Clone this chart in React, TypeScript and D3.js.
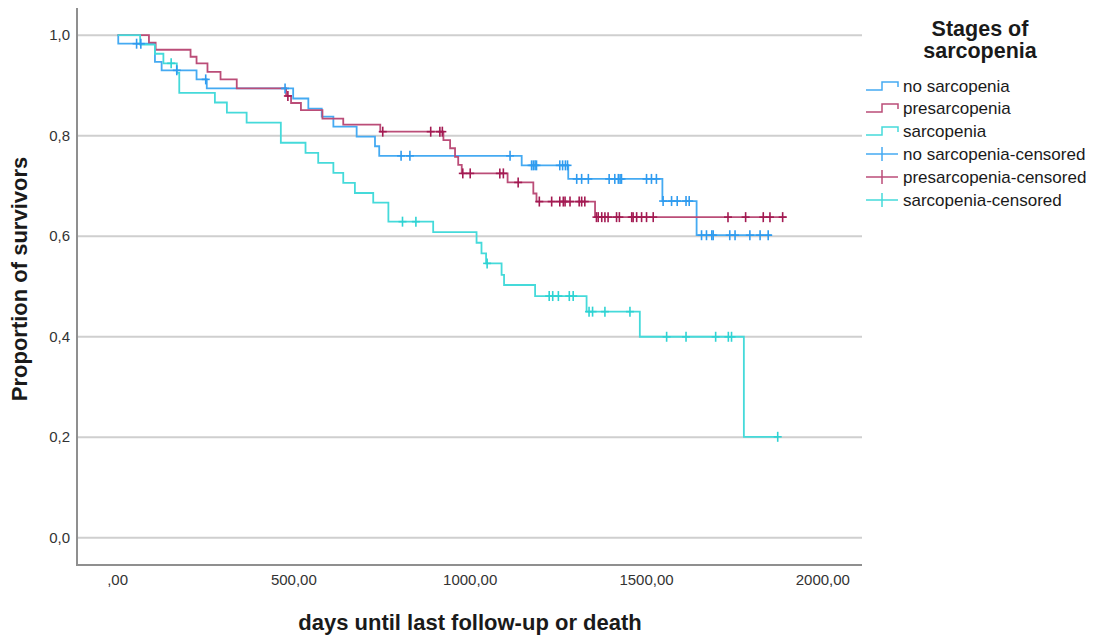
import React, { useEffect, useRef } from "react";
import * as d3 from "d3";

// Kaplan-Meier steps (days, proportion surviving)
const noSarcTimes = [0, 2, 106, 125, 224, 253, 498, 541, 579, 612, 678, 730, 742, 1146, 1278, 1545, 1642];
const noSarcSurv = [1.0, 0.983, 0.947, 0.93, 0.912, 0.894, 0.874, 0.854, 0.838, 0.818, 0.798, 0.779, 0.76, 0.741, 0.714, 0.67, 0.602];
const noSarcCensored = [54, 66, 168, 250, 475, 804, 829, 1113, 1174, 1179, 1184, 1188, 1254, 1262, 1270, 1276, 1302, 1316, 1335, 1394, 1410, 1420, 1425, 1429, 1500, 1514, 1528, 1547, 1571, 1587, 1612, 1621, 1656, 1670, 1685, 1689, 1736, 1751, 1793, 1822, 1845];
const noSarcEnd = 1855;

const preSarcTimes = [0, 89, 108, 207, 224, 255, 292, 338, 478, 492, 520, 581, 640, 745, 924, 943, 957, 966, 976, 1106, 1179, 1188, 1354];
const preSarcSurv = [1.0, 0.985, 0.971, 0.957, 0.944, 0.927, 0.912, 0.894, 0.879, 0.865, 0.851, 0.834, 0.822, 0.808, 0.791, 0.775, 0.758, 0.742, 0.725, 0.707, 0.685, 0.669, 0.638];
const preSarcCensored = [483, 752, 888, 914, 921, 979, 1000, 1084, 1094, 1136, 1196, 1231, 1254, 1264, 1269, 1283, 1309, 1316, 1325, 1358, 1363, 1373, 1382, 1391, 1415, 1423, 1458, 1462, 1472, 1486, 1500, 1519, 1731, 1781, 1831, 1850, 1886];
const preSarcEnd = 1897;

const sarcTimes = [0, 64, 106, 130, 168, 175, 276, 310, 366, 463, 533, 569, 612, 640, 673, 725, 768, 895, 1018, 1032, 1045, 1089, 1096, 1184, 1330, 1481, 1776];
const sarcSurv = [1.0, 0.981, 0.963, 0.944, 0.925, 0.885, 0.866, 0.846, 0.826, 0.786, 0.766, 0.746, 0.726, 0.706, 0.686, 0.667, 0.629, 0.608, 0.587, 0.566, 0.546, 0.523, 0.503, 0.481, 0.45, 0.4, 0.201];
const sarcCensored = [152, 808, 846, 1048, 1224, 1234, 1250, 1281, 1292, 1337, 1347, 1382, 1453, 1557, 1612, 1696, 1732, 1741, 1872];
const sarcEnd = 1872;

const xTicks = [0, 500, 1000, 1500, 2000];
const yTicks = [0, 0.2, 0.4, 0.6, 0.8, 1.0];
const legendLabels = [
  "no sarcopenia",
  "presarcopenia",
  "sarcopenia",
  "no sarcopenia-censored",
  "presarcopenia-censored",
  "sarcopenia-censored",
];

const FONT = "'Liberation Sans', Arial, sans-serif";

const fmtX = (v: number) => (v === 0 ? ",00" : `${v},00`);
const fmtY = (v: number) => v.toFixed(1).replace(".", ",");

const App = () => {
  const ref = useRef<SVGSVGElement>(null);

  useEffect(() => {
    const svg = d3.select(ref.current);
    svg.selectAll("*").remove();

    const left = 77;
    const right = 862;
    const top = 8;
    const bottom = 565;

    const x = d3.scaleLinear().domain([-115, 2111]).range([left, right]);
    const y = d3.scaleLinear().domain([-0.054, 1.054]).range([bottom, top]);

    const groups = [
      { times: noSarcTimes, surv: noSarcSurv, cens: noSarcCensored, end: noSarcEnd, line: "#45aaf2", mark: "#2f9bef" },
      { times: preSarcTimes, surv: preSarcSurv, cens: preSarcCensored, end: preSarcEnd, line: "#bb4d78", mark: "#a31a52" },
      { times: sarcTimes, surv: sarcSurv, cens: sarcCensored, end: sarcEnd, line: "#45dada", mark: "#2ed3d3" },
    ];

    // gridlines
    svg
      .append("g")
      .selectAll("line")
      .data(yTicks)
      .enter()
      .append("line")
      .attr("x1", left)
      .attr("x2", right)
      .attr("y1", (d) => y(d))
      .attr("y2", (d) => y(d))
      .attr("stroke", "#cfcfcf")
      .attr("stroke-width", 2);

    // axis frame
    svg
      .append("path")
      .attr("d", `M${left},${top}V${bottom}H${right}`)
      .attr("fill", "none")
      .attr("stroke", "#8f8f8f")
      .attr("stroke-width", 2);

    svg
      .append("g")
      .selectAll("text")
      .data(yTicks)
      .enter()
      .append("text")
      .attr("x", 70)
      .attr("y", (d) => y(d) + 5)
      .attr("text-anchor", "end")
      .attr("font-family", FONT)
      .attr("font-size", 15)
      .attr("fill", "#333")
      .text((d) => fmtY(d));

    svg
      .append("g")
      .selectAll("text")
      .data(xTicks)
      .enter()
      .append("text")
      .attr("x", (d) => x(d))
      .attr("y", 585)
      .attr("text-anchor", "middle")
      .attr("font-family", FONT)
      .attr("font-size", 15)
      .attr("fill", "#333")
      .text((d) => fmtX(d));

    svg
      .append("text")
      .attr("transform", `translate(27,279) rotate(-90)`)
      .attr("text-anchor", "middle")
      .attr("font-family", FONT)
      .attr("font-size", 22)
      .attr("font-weight", "bold")
      .attr("fill", "#1a1a1a")
      .text("Proportion of survivors");

    svg
      .append("text")
      .attr("x", 470)
      .attr("y", 630)
      .attr("text-anchor", "middle")
      .attr("font-family", FONT)
      .attr("font-size", 22)
      .attr("font-weight", "bold")
      .attr("fill", "#1a1a1a")
      .text("days until last follow-up or death");

    const step = d3
      .line<[number, number]>()
      .x((d) => x(d[0]))
      .y((d) => y(d[1]))
      .curve(d3.curveStepAfter);

    const survAt = (g: typeof groups[0], t: number) => {
      const i = d3.bisectRight(g.times, t) - 1;
      return g.surv[Math.max(0, i)];
    };

    groups.forEach((g) => {
      const pts: [number, number][] = g.times.map((t, i) => [t, g.surv[i]]);
      pts.push([g.end, g.surv[g.surv.length - 1]]);
      svg
        .append("path")
        .datum(pts)
        .attr("d", step)
        .attr("fill", "none")
        .attr("stroke", g.line)
        .attr("stroke-width", 1.8);
    });

    groups.forEach((g) => {
      const cg = svg.append("g");
      g.cens.forEach((t) => {
        const cx = x(t);
        const cy = y(survAt(g, t));
        cg.append("line")
          .attr("x1", cx)
          .attr("x2", cx)
          .attr("y1", cy - 5)
          .attr("y2", cy + 5)
          .attr("stroke", g.mark)
          .attr("stroke-width", 1.6);
        cg.append("line")
          .attr("x1", cx - 4)
          .attr("x2", cx + 4)
          .attr("y1", cy)
          .attr("y2", cy)
          .attr("stroke", g.mark)
          .attr("stroke-width", 1.6);
      });
    });

    // legend
    const lg = svg.append("g");
    ["Stages of", "sarcopenia"].forEach((t, i) => {
      lg.append("text")
        .attr("x", 980)
        .attr("y", 36 + i * 22)
        .attr("text-anchor", "middle")
        .attr("font-family", FONT)
        .attr("font-size", 21.5)
        .attr("font-weight", "bold")
        .attr("fill", "#1a1a1a")
        .text(t);
    });

    const rowY = [86, 108, 131, 154, 177, 200];
    legendLabels.forEach((label, i) => {
      const g = groups[i % 3];
      const ry = rowY[i];
      if (i < 3) {
        lg.append("path")
          .attr("d", `M866,${ry + 4}H882V${ry - 4}H898V${ry + 1}`)
          .attr("fill", "none")
          .attr("stroke", g.line)
          .attr("stroke-width", 1.5);
      } else {
        lg.append("line")
          .attr("x1", 866)
          .attr("x2", 898)
          .attr("y1", ry)
          .attr("y2", ry)
          .attr("stroke", g.line)
          .attr("stroke-width", 1.5);
        lg.append("line")
          .attr("x1", 882)
          .attr("x2", 882)
          .attr("y1", ry - 7)
          .attr("y2", ry + 7)
          .attr("stroke", g.line)
          .attr("stroke-width", 1.5);
      }
      lg.append("text")
        .attr("x", 903)
        .attr("y", ry + 6)
        .attr("font-family", FONT)
        .attr("font-size", 17)
        .attr("fill", "#1a1a1a")
        .text(label);
    });
  }, []);

  return (
    <div style={{ position: "absolute", left: 0, top: 0 }}>
      <svg ref={ref} width={1099} height={637} style={{ display: "block", background: "#fff" }}></svg>
    </div>
  );
};

export default App;
